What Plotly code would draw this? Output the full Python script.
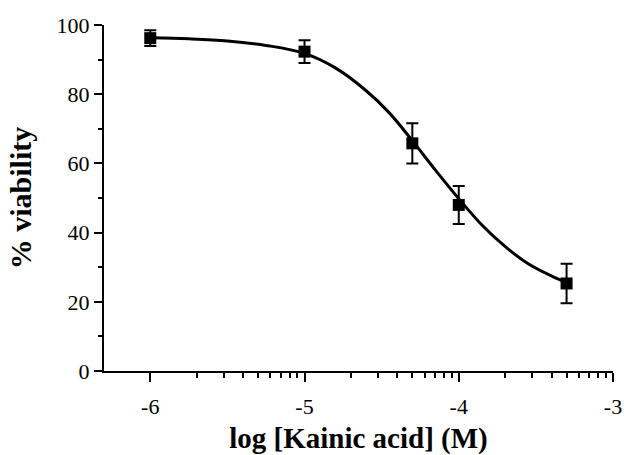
import math
import plotly.graph_objects as go

# Data
log_conc = [-6.0, -5.0, -4.301, -4.0, -3.301]
viability = [96.2, 92.3, 65.8, 48.0, 25.3]
sem = [2.3, 3.3, 5.8, 5.5, 5.7]

# Fitted curve, read along its path
curve_x = [-6.0, -5.75, -5.5, -5.25, -5.0, -4.8, -4.6, -4.45, -4.3, -4.15,
           -4.0, -3.85, -3.7, -3.55, -3.4, -3.301]
curve_y = [96.3, 96.0, 95.4, 94.1, 91.8, 87.6, 81.0, 74.6, 66.5, 58.0,
           49.8, 42.2, 36.0, 31.0, 27.5, 25.6]

major_x = [-6, -5, -4, -3]
major_x_text = ["-6", "-5", "-4", "-3"]
minor_mult = [2, 3, 4, 5, 6, 7, 8, 9]
decades = [-6, -5, -4]
minor_x = [d + math.log10(k) for d in decades for k in minor_mult]

major_y = [0, 20, 40, 60, 80, 100]
minor_y = [10, 30, 50, 70, 90]

font_family = "Liberation Serif"

fig = go.Figure()
fig.add_trace(go.Scatter(
    x=curve_x, y=curve_y, mode="lines",
    line=dict(color="black", width=3, shape="spline"),
    hoverinfo="skip", showlegend=False,
))
fig.add_trace(go.Scatter(
    x=log_conc, y=viability, mode="markers",
    marker=dict(symbol="square", size=12, color="black"),
    error_y=dict(type="data", array=sem, visible=True, color="black",
                 thickness=2, width=6),
    showlegend=False,
))

fig.update_layout(
    width=628, height=455,
    margin=dict(l=104, r=15, t=25, b=84),
    paper_bgcolor="white", plot_bgcolor="white",
    font=dict(family=font_family, color="black", size=22),
    xaxis=dict(
        range=[-6.3, -3], automargin=False,
        tickmode="array", tickvals=major_x, ticktext=major_x_text,
        ticks="outside", ticklen=9, tickwidth=2, tickcolor="black",
        ticklabelstandoff=6,
        showline=True, linewidth=2, linecolor="black",
        showgrid=False, zeroline=False,
        tickfont=dict(family=font_family, size=22),
        minor=dict(tickmode="array", tickvals=minor_x, ticks="outside",
                   ticklen=5, tickwidth=2, tickcolor="black", showgrid=False),
        title=dict(text="<b>log [Kainic acid] (M)</b>",
                   font=dict(family=font_family, size=29), standoff=16),
    ),
    yaxis=dict(
        range=[0, 100], automargin=False,
        tickmode="array", tickvals=major_y,
        ticks="outside", ticklen=8, tickwidth=2, tickcolor="black",
        showline=True, linewidth=2, linecolor="black",
        showgrid=False, zeroline=False,
        tickfont=dict(family=font_family, size=22),
        minor=dict(tickmode="array", tickvals=minor_y, ticks="outside",
                   ticklen=4, tickwidth=2, tickcolor="black", showgrid=False),
        title=dict(text="<b>% viability</b>",
                   font=dict(family=font_family, size=30), standoff=16),
    ),
)

fig.write_html("out.html")
